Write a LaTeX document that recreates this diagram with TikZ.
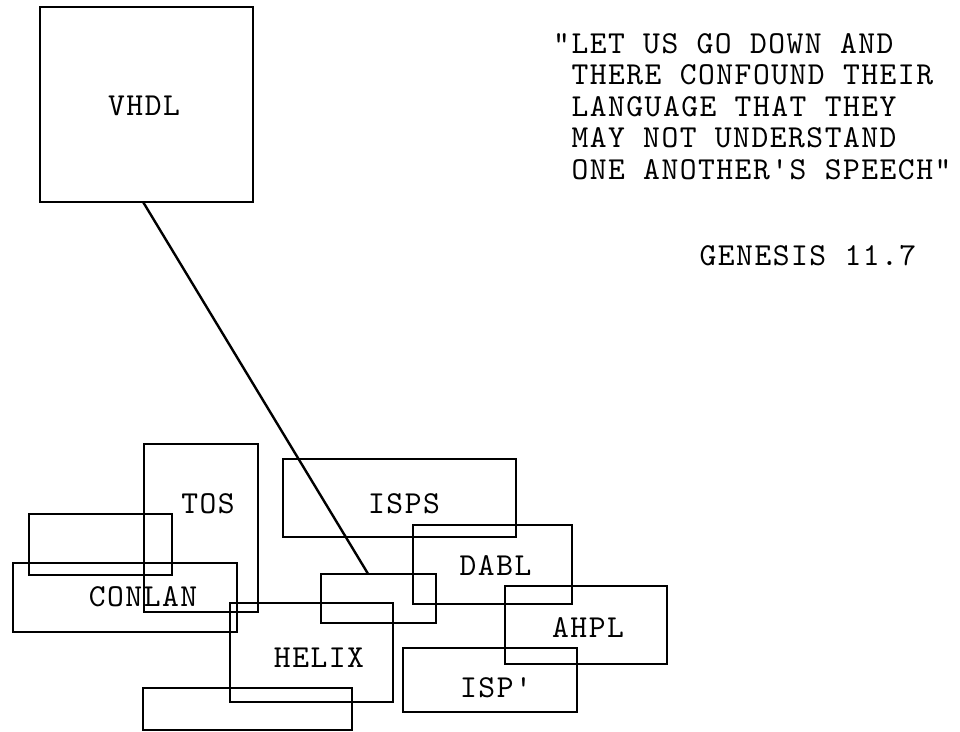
\documentclass[tikz,border=0pt]{standalone}
\usepackage{fontspec}
\usetikzlibrary{calc}
\newfontfamily\tw{lmmono10-regular.otf}[LetterSpace=4.7]
\begin{document}
\begin{tikzpicture}[x=1pt,y=-1pt,
  box/.style={draw=black, line width=2.2pt, inner sep=0pt, outer sep=0pt, rectangle},
  lbl/.style={inner sep=0pt, anchor=base, font=\tw\fontsize{32}{32}\selectfont},
  qline/.style={inner sep=0pt, anchor=base west, font=\tw\fontsize{32}{32}\selectfont},
  conn/.style={draw=black, line width=2.4pt}
]
\useasboundingbox (0,0) rectangle (960,731);
% boxes
\node[box, minimum width=213pt, minimum height=195pt] (vhdl) at (146.5,104.5) {};
\node[box, minimum width=114pt, minimum height=168pt] (tos) at (201,528) {};
\node[box, minimum width=143pt, minimum height=61pt] (boxa) at (100.5,544.5) {};
\node[box, minimum width=224pt, minimum height=69pt] (conlan) at (125,597.5) {};
\node[box, minimum width=233pt, minimum height=78pt] (isps) at (399.5,498) {};
\node[box, minimum width=159pt, minimum height=79pt] (dabl) at (492.5,564.5) {};
\node[box, minimum width=115pt, minimum height=49pt] (boxb) at (378.5,598.5) {};
\node[box, minimum width=163pt, minimum height=99pt] (helix) at (311.5,652.5) {};
\node[box, minimum width=162pt, minimum height=78pt] (ahpl) at (586,625) {};
\node[box, minimum width=174pt, minimum height=64pt] (ispp) at (490,680) {};
\node[box, minimum width=209pt, minimum height=42pt] (boxc) at (247.5,709) {};
% labels
\node[lbl] (lvhdl) at (144,115) {VHDL};
\node[lbl] (ltos) at (208,513) {TOS};
\node[lbl] (lisps) at (404,513) {ISPS};
\node[lbl] (lconlan) at (143,606) {CONLAN};
\node[lbl] (lhelix) at (319,667) {HELIX};
\node[lbl] (ldabl) at (495.5,575) {DABL};
\node[lbl] (lahpl) at (588,637) {AHPL};
\node[lbl] (lispp) at (496,697) {ISP'};
% connector
\draw[conn] ($(vhdl.south west)!0.484!(vhdl.south east)$) -- ($(boxb.north west)!0.41!(boxb.north east)$);
% quote
\node[qline] (q1) at (553,53) {"LET US GO DOWN AND};
\node[qline] (q2) at (571.3,84.5) {THERE CONFOUND THEIR};
\node[qline] (q3) at (571.3,116) {LANGUAGE THAT THEY};
\node[qline] (q4) at (571.3,147.5) {MAY NOT UNDERSTAND};
\node[qline] (q5) at (571.3,179) {ONE ANOTHER'S SPEECH"};
\node[qline] (gen) at (699.4,265) {GENESIS 11.7};
\end{tikzpicture}
\end{document}
